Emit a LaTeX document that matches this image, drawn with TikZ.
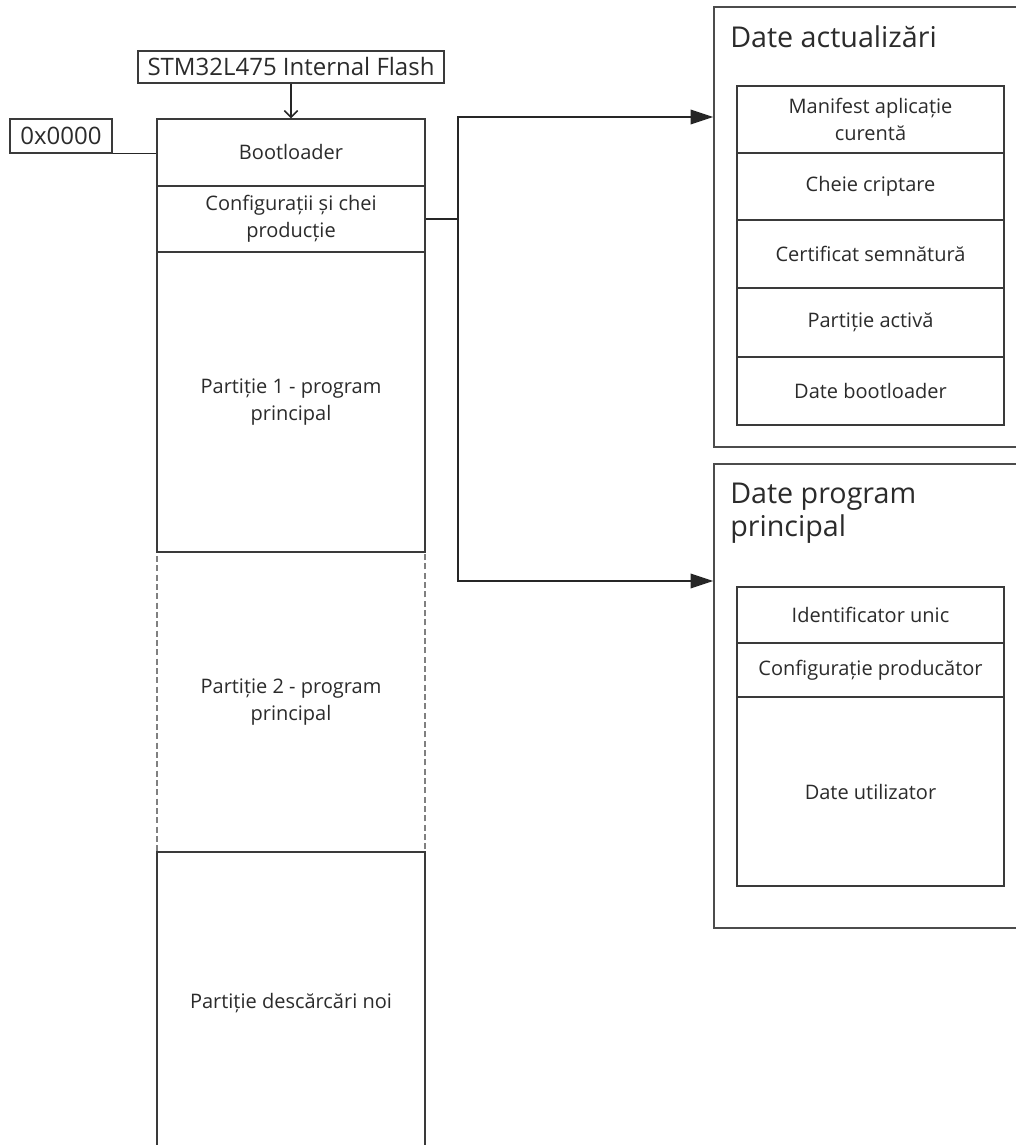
\documentclass[tikz,border=0pt]{standalone}
\usepackage{fontspec}
\setmainfont{Open Sans}
\usetikzlibrary{arrows.meta}
\definecolor{ink}{HTML}{2B2B2B}
\definecolor{edge}{HTML}{3A3A3A}
\begin{document}
\begin{tikzpicture}[x=0.75pt,y=-0.75pt,
  cell/.style={draw=edge, line width=1.1pt, inner sep=0pt, align=center,
    text=ink, font=\fontsize{15}{20}\selectfont},
  mapcell/.style={cell, minimum width=201pt},
  subcell/.style={cell, minimum width=200.25pt},
  panel/.style={draw=black!70, line width=1.1pt, inner sep=0pt,
    minimum width=237pt},
  tag/.style={draw=edge, line width=1.1pt, inner sep=0pt, text=ink,
    font=\fontsize{18}{22}\selectfont},
  title/.style={anchor=west, inner sep=0pt, align=left, text=ink,
    font=\fontsize{21.5}{24.75}\selectfont},
  link/.style={draw=black!85, line width=1.1pt},
  bigtip/.style={-{Triangle[length=17pt,width=11pt]}}
]
\useasboundingbox (0,0) rectangle (1016,1145);
\clip (0,0) rectangle (1016,1145);
\fill[white] (0,0) rectangle (1016,1145);

% flash memory map
\node[mapcell, draw=black!50, dash pattern=on 4.5pt off 2.5pt,
  minimum height=225pt] (part2) at (291,702)
  {Partiție 2 - program\\principal};
\node[mapcell, minimum height=50.25pt] (boot) at (291,152.5) {Bootloader};
\node[mapcell, minimum height=49.5pt] (cfg) at (291,219)
  {Configurații și chei\\producție};
\node[mapcell, minimum height=225pt] (part1) at (291,402)
  {Partiție 1 - program\\principal};
\node[mapcell, minimum height=226.5pt] (part3) at (291,1003)
  {Partiție descărcări noi};

% labels of the memory
\node[tag, minimum width=229.5pt, minimum height=24pt] (flash) at (291,67)
  {STM32L475 Internal Flash};
\node[tag, minimum width=76.5pt, minimum height=25.5pt] (addr) at (61,136)
  {0x0000};
\draw[link, -{Straight Barb[length=5pt,width=10pt]}] (flash.south) -- (boot.north);
\draw[link] (addr.south east) -- (boot.west |- addr.south east);

% update data panel
\node[panel, minimum height=330pt] (panelA) at (872,227) {};
\node[title] (titleA) at (730,37) {Date actualizări};
\node[subcell, minimum height=50.25pt] (manifest) at (870.5,119.5)
  {Manifest aplicație\\curentă};
\node[subcell, minimum height=50.25pt] (key) at (870.5,186.5) {Cheie criptare};
\node[subcell, minimum height=51pt] (cert) at (870.5,254) {Certificat semnătură};
\node[subcell, minimum height=51.75pt] (active) at (870.5,322.5) {Partiție activă};
\node[subcell, minimum height=51pt] (bootdata) at (870.5,391) {Date bootloader};

% main program data panel
\node[panel, minimum height=348pt] (panelB) at (872,696) {};
\node[title] (titleB) at (730,513) {Date program\\principal};
\node[subcell, minimum height=42pt] (uid) at (870.5,615) {Identificator unic};
\node[subcell, minimum height=40.5pt] (prod) at (870.5,670) {Configurație producător};
\node[subcell, minimum height=141.75pt] (user) at (870.5,791.5) {Date utilizator};

% connectors from the configuration area
\coordinate (split) at (458,219);
\coordinate (inA) at (panelA.west |- 0,117);
\coordinate (inB) at (panelB.west |- 0,581);
\draw[link] (cfg.east) -- (split);
\draw[link, bigtip] (split) |- (inA);
\draw[link, bigtip] (split) |- (inB);
\end{tikzpicture}
\end{document}
